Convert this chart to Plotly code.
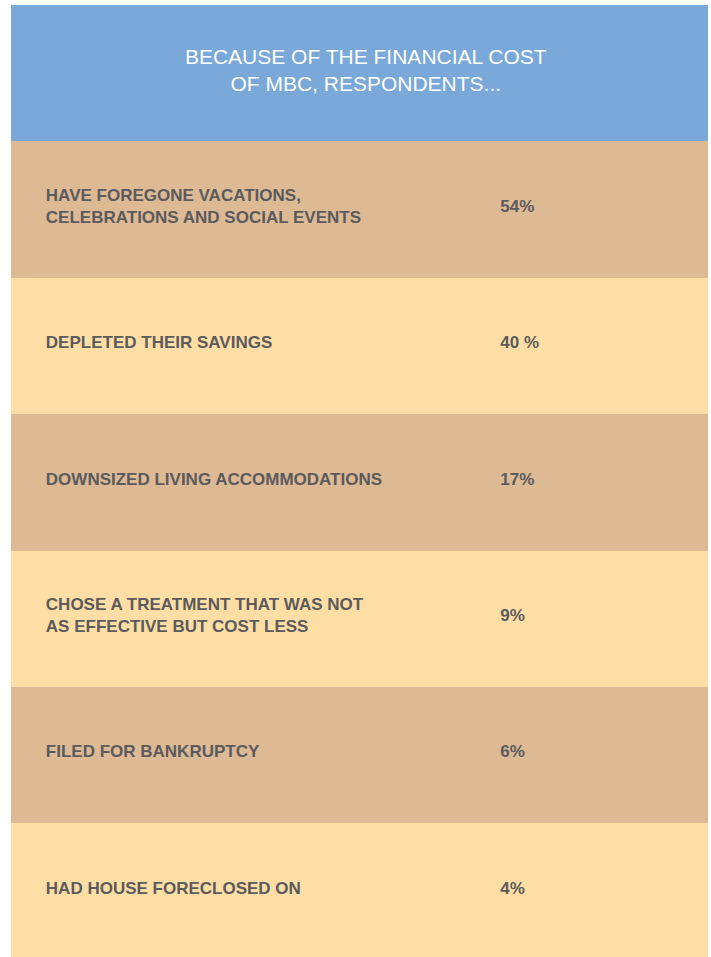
import plotly.graph_objects as go

COLOUR_BLUE = "#7aa8d8"
COLOUR_TAN = "#ddb994"
COLOUR_SAND = "#fedea4"
COLOUR_TEXT = "#5b5b5e"

TITLE_LINES = ["BECAUSE OF THE FINANCIAL COST", "OF MBC, RESPONDENTS..."]

ITEMS = [
    "HAVE FOREGONE VACATIONS,<br>CELEBRATIONS AND SOCIAL EVENTS",
    "DEPLETED THEIR SAVINGS",
    "DOWNSIZED LIVING ACCOMMODATIONS",
    "CHOSE A TREATMENT THAT WAS NOT<br>AS EFFECTIVE BUT COST LESS",
    "FILED FOR BANKRUPTCY",
    "HAD HOUSE FORECLOSED ON",
]
SHARES = ["54%", "40 %", "17%", "9%", "6%", "4%"]

ROW_PX = 136.4
PLOT_PX = 952

rows = list(range(len(ITEMS) + 1))
fills = [COLOUR_BLUE] + [COLOUR_TAN if i % 2 == 0 else COLOUR_SAND for i in range(len(ITEMS))]
item_rows = rows[1:]

fig = go.Figure()

# full-width bars are the row bands (row 0 is the header)
fig.add_trace(go.Bar(
    y=rows, x=[1] * len(rows), base=0, orientation="h",
    width=1, marker={"color": fills, "line": {"width": 0}},
    hoverinfo="skip", showlegend=False,
))

fig.add_trace(go.Scatter(
    x=[0.509], y=[-0.005], mode="text",
    text=["<br>".join(TITLE_LINES)], textposition="middle center",
    textfont={"family": "Liberation Sans, Arial", "size": 21, "color": "white"},
    hoverinfo="skip", showlegend=False,
))

fig.add_trace(go.Scatter(
    x=[0.050] * len(ITEMS), y=[r - 0.015 for r in item_rows], mode="text",
    text=[f"<b>{t}</b>" for t in ITEMS], textposition="middle right",
    textfont={"family": "Liberation Sans, Arial", "size": 17, "color": COLOUR_TEXT},
    hoverinfo="skip", showlegend=False,
))

fig.add_trace(go.Scatter(
    x=[0.702] * len(SHARES), y=[r - 0.015 for r in item_rows], mode="text",
    text=[f"<b>{s}</b>" for s in SHARES], textposition="middle right",
    textfont={"family": "Liberation Sans, Arial", "size": 17, "color": COLOUR_TEXT},
    hoverinfo="skip", showlegend=False,
))

fig.update_layout(
    width=711, height=957,
    margin={"l": 11, "r": 3, "t": 5, "b": 0},
    paper_bgcolor="white", plot_bgcolor="white",
    bargap=0,
)
fig.update_xaxes(range=[0, 1], visible=False, fixedrange=True)
fig.update_yaxes(
    range=[-0.5 + PLOT_PX / ROW_PX, -0.5],
    visible=False, fixedrange=True,
)

fig.write_html(
    "out.html",
    config={"displayModeBar": False},
    post_script=(
        "document.body.style.margin='0';"
        "document.body.style.overflow='hidden';"
        "Plotly.Plots.resize(document.getElementById('{plot_id}'));"
    ),
)
